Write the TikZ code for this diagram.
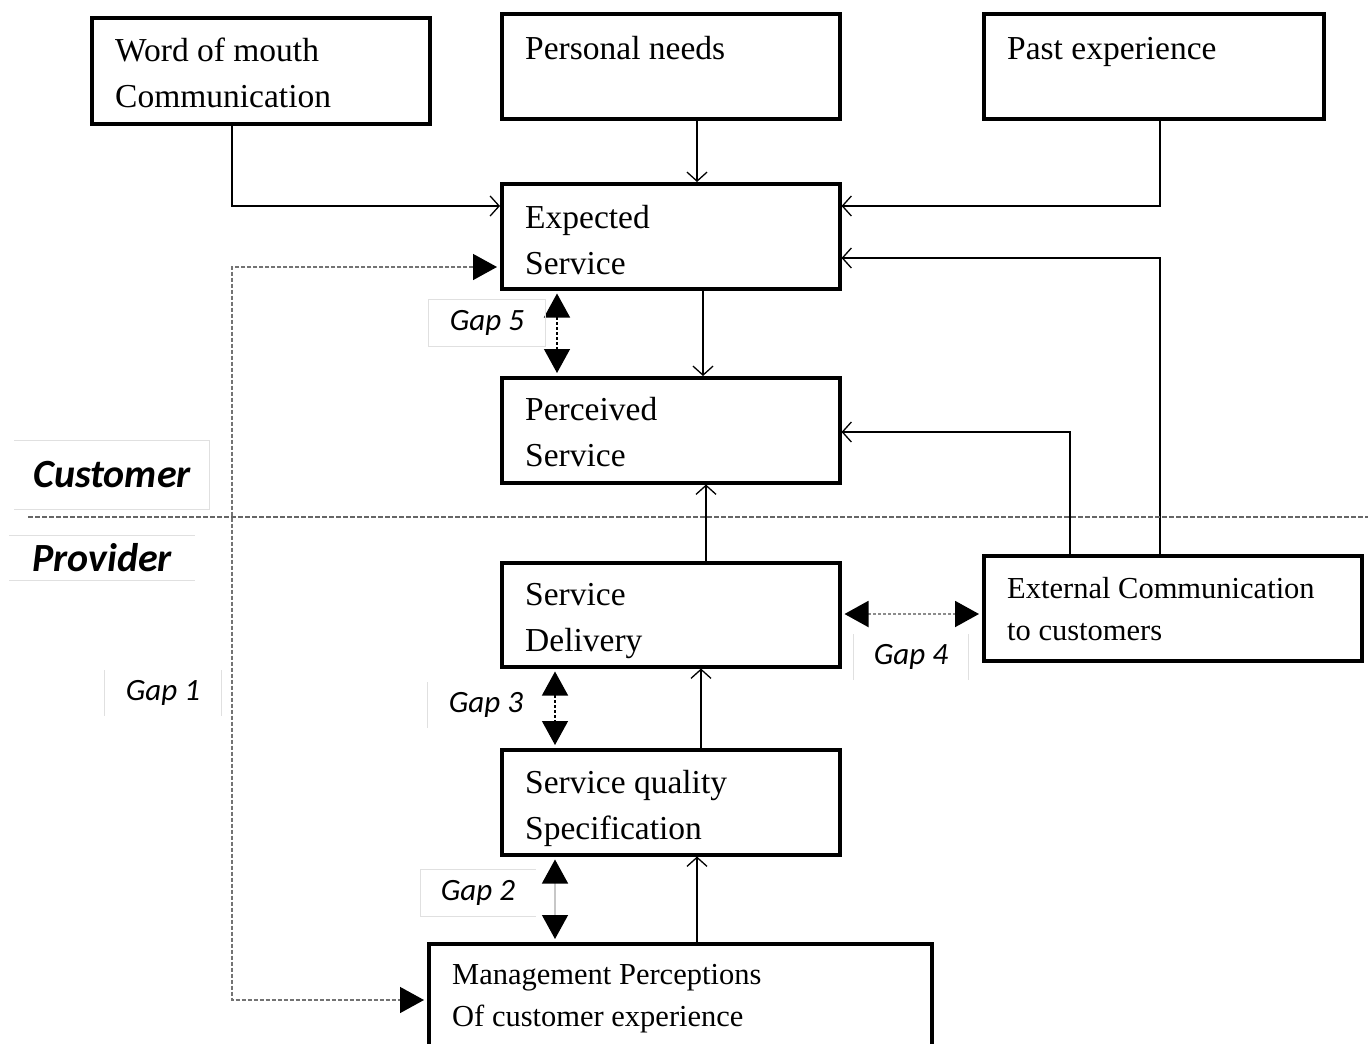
\documentclass[tikz,border=0pt]{standalone}
\usepackage{fontspec}
\setmainfont{Liberation Serif}
\newfontfamily\calib{Carlito}
\usetikzlibrary{arrows.meta,calc}
\begin{document}
\begin{tikzpicture}[x=1pt,y=-1pt,
  box/.style={draw, line width=3.5pt, inner sep=0pt, anchor=north west},
  btext/.style={anchor=base west, align=left, inner sep=0pt, font=\fontsize{33.5}{46}\selectfont},
  stext/.style={anchor=base west, align=left, inner sep=0pt, font=\fontsize{30.5}{42}\selectfont},
  conn/.style={line width=1.3pt, -{Straight Barb[length=9pt,width=20pt,line width=1.3pt]}},
  gaparrow/.style={{Triangle[length=24pt,width=26pt,color=black]}-{Triangle[length=24pt,width=26pt,color=black]}},
  gapl/.style={font=\calib\itshape\fontsize{31}{34}\selectfont, inner sep=0pt, minimum height=46pt},
  sidel/.style={font=\calib\bfseries\itshape\fontsize{40}{44}\selectfont, inner sep=0pt},
  faint/.style={draw=black!12, line width=1pt}
]
\useasboundingbox (0,0) rectangle (1368,1044);
\clip (0,0) rectangle (1368,1044);

% boxes
\node[box, minimum width=338pt, minimum height=106pt] (wom) at (90,16) {};
\node[box, minimum width=338pt, minimum height=105pt] (pn) at (500,12) {};
\node[box, minimum width=340pt, minimum height=105pt] (pe) at (982,12) {};
\node[box, minimum width=338pt, minimum height=105pt] (es) at (500,182) {};
\node[box, minimum width=338pt, minimum height=105pt] (ps) at (500,376) {};
\node[box, minimum width=338pt, minimum height=104pt] (sd) at (500,561) {};
\node[box, minimum width=378pt, minimum height=105pt] (ec) at (982,554) {};
\node[box, minimum width=338pt, minimum height=105pt] (sq) at (500,748) {};
\node[box, minimum width=503pt, minimum height=120pt] (mp) at (427,942) {};

% texts (base anchor = baseline of last line)
\node[btext] (womt) at ($(wom.north west)+(25,91)$) {Word of mouth\\Communication};
\node[btext] (pnt) at ($(pn.north west)+(25,47)$) {Personal needs};
\node[btext] (pet) at ($(pe.north west)+(25,47)$) {Past experience};
\node[btext] (est) at ($(es.north west)+(25,92)$) {Expected\\Service};
\node[btext] (pst) at ($(ps.north west)+(25,90)$) {Perceived\\Service};
\node[btext] (sdt) at ($(sd.north west)+(25,90)$) {Service\\Delivery};
\node[stext] (ect) at ($(ec.north west)+(25,86)$) {External Communication\\to customers};
\node[btext] (sqt) at ($(sq.north west)+(25,91)$) {Service quality\\Specification};
\node[stext] (mpt) at ($(mp.north west)+(25,84)$) {Management Perceptions\\Of customer experience};

% solid connectors
\draw[conn] ($(wom.south west)+(142,0)$) |- (es.west |- 0,206);
\draw[conn] ($(pn.south west)+(197,0)$) -- ($(es.north west)+(197,0)$);
\draw[conn] ($(pe.south west)+(178,0)$) |- (es.east |- 0,206);
\draw[conn] ($(ec.north west)+(178,0)$) |- (es.east |- 0,258);
\draw[conn] ($(ec.north west)+(88,0)$) |- (ps.east |- 0,432);
\draw[conn] ($(es.south west)+(203,0)$) -- ($(ps.north west)+(203,0)$);
\draw[conn] ($(sd.north west)+(206,0)$) -- ($(ps.south west)+(206,0)$);
\draw[conn] ($(sq.north west)+(201,0)$) -- ($(sd.south west)+(201,0)$);
\draw[conn] ($(mp.north west)+(270,0)$) -- ($(sq.south west)+(197,0)$);

% divider
\coordinate (divL) at (28,517);
\coordinate (divR) at (1368,517);
\draw[black!60, line width=1.5pt, dash pattern=on 5pt off 2pt] (divL) -- (divR);

% Gap 1
\coordinate (g1a) at (232,267);
\coordinate (g1b) at (232,1000);
\draw[black!55, line width=1.5pt, dash pattern=on 4pt off 2pt, gaparrow] ($(es.west |- g1a)+(-3,0)$) -- (g1a) -- (g1b) -- ($(mp.west |- g1b)+(-3,0)$);

% Gap 5
\draw[line width=1.3pt, dash pattern=on 3pt off 2pt, gaparrow] ($(es.south west)+(57,3)$) -- ($(ps.north west)+(57,-3)$);
% Gap 3
\draw[line width=1.3pt, dash pattern=on 3pt off 2pt, gaparrow] ($(sd.south west)+(55,3)$) -- ($(sq.north west)+(55,-3)$);
% Gap 2
\draw[black!22, line width=1.3pt, gaparrow] ($(sq.south west)+(55,3)$) -- ($(mp.north west)+(128,-3)$);
% Gap 4
\draw[black!45, line width=2pt, dash pattern=on 3pt off 2pt, gaparrow] ($(sd.east |- 0,614)+(3,0)$) -- ($(ec.west |- 0,614)+(-3,0)$);

% side labels
\node[sidel, minimum width=195pt, minimum height=69pt] (cust) at (112,475) {Customer};
\draw[faint] (cust.north west) -- (cust.north east) -- (cust.south east);
\draw[faint] (cust.south west) -- (cust.south east);
\node[sidel, minimum width=185pt, minimum height=45pt] (prov) at (102,558) {Provider};
\draw[faint] (prov.north west) -- (prov.north east);
\draw[faint] (prov.south west) -- (prov.south east);

% gap labels
\node[gapl, minimum width=116pt] (g5) at (487,323) {Gap 5};
\draw[faint] (g5.south east) rectangle (g5.north west);
\node[gapl, minimum width=116pt] (g1) at (163,693) {Gap 1};
\draw[faint] (g1.north west) -- (g1.south west);
\draw[faint] (g1.north east) -- (g1.south east);
\node[gapl, minimum width=115pt] (g4) at (911,657) {Gap 4};
\draw[faint] (g4.north west) -- (g4.south west);
\draw[faint] (g4.north east) -- (g4.south east);
\node[gapl, minimum width=116pt] (g3) at (486,705) {Gap 3};
\draw[faint] (g3.north west) -- (g3.south west);
\node[gapl, minimum width=115pt] (g2) at (478,893) {Gap 2};
\draw[faint] (g2.north east) -- (g2.north west) -- (g2.south west) -- (g2.south east);
\end{tikzpicture}
\end{document}
